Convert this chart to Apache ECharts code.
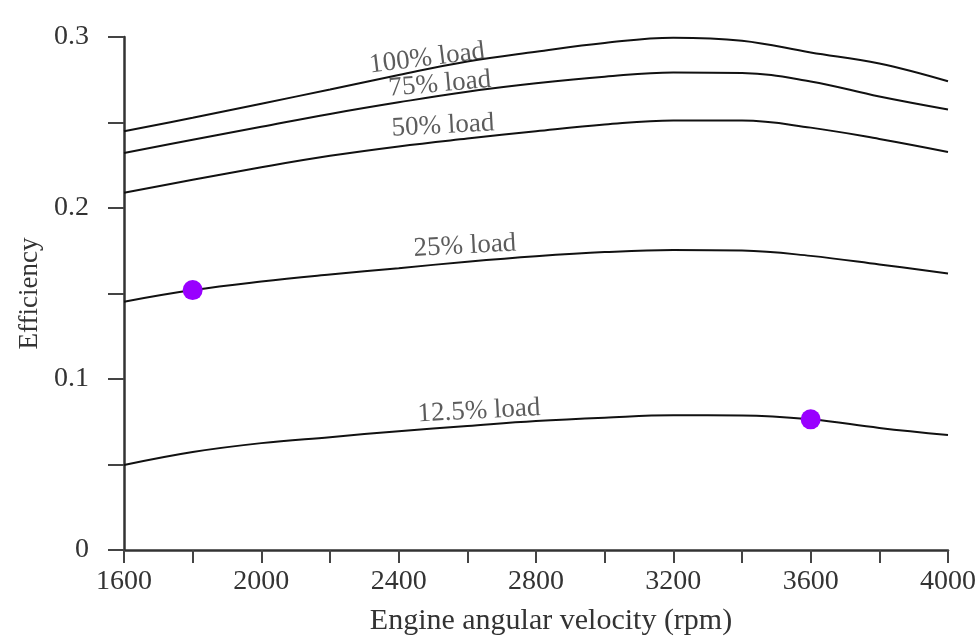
<!DOCTYPE html>
<html>
<head>
<meta charset="utf-8">
<script src="https://cdn.jsdelivr.net/npm/echarts@6/dist/echarts.min.js"></script>
<style>html,body{margin:0;padding:0;background:#fff}#c{width:979px;height:641px}</style>
</head>
<body>
<div id="c"></div>
<script>
const rpm = [1600, 1800, 2000, 2200, 2400, 2600, 2800, 3000, 3200, 3400, 3600, 3800, 4000];
const load100 = [0.2449, 0.2528, 0.2610, 0.2693, 0.2778, 0.2857, 0.2914, 0.2965, 0.2996, 0.2978, 0.2910, 0.2845, 0.2741];
const load75  = [0.2322, 0.2399, 0.2475, 0.2550, 0.2618, 0.2680, 0.2729, 0.2768, 0.2793, 0.2790, 0.2740, 0.2652, 0.2576];
const load50  = [0.2089, 0.2165, 0.2238, 0.2305, 0.2360, 0.2406, 0.2449, 0.2488, 0.2512, 0.2511, 0.2470, 0.2404, 0.2328];
const load25  = [0.1452, 0.1520, 0.1570, 0.1611, 0.1648, 0.1686, 0.1718, 0.1742, 0.1754, 0.1751, 0.1720, 0.1670, 0.1617];
const load12  = [0.0497, 0.0573, 0.0625, 0.0660, 0.0695, 0.0725, 0.0754, 0.0774, 0.0788, 0.0787, 0.0764, 0.0714, 0.0672];
const markers = [[1800, 0.1520], [3600, 0.0764]];
const curveLabels = [
  {text: '100% load', rpm: 2483, value: 0.2875, rotate: 7},
  {text: '75% load', rpm: 2520, value: 0.2724, rotate: 5},
  {text: '50% load', rpm: 2529, value: 0.2480, rotate: 3},
  {text: '25% load', rpm: 2593, value: 0.1777, rotate: 3},
  {text: '12.5% load', rpm: 2634, value: 0.0812, rotate: 3}
];
const xTickLabels = ['1600', '2000', '2400', '2800', '3200', '3600', '4000'];
const yTickLabels = ['0', '0.1', '0.2', '0.3'];

const FONT = '"Liberation Serif", "Times New Roman", serif';
const chart = echarts.init(document.getElementById('c'));
function lineSeries(name, data) {
  return {
    name: name, type: 'line', smooth: 0.4, symbol: 'none',
    data: rpm.map((r, i) => [r, data[i]]),
    lineStyle: {color: '#111', width: 2},
    z: 2
  };
}
const series = [
  lineSeries('100% load', load100),
  lineSeries('75% load', load75),
  lineSeries('50% load', load50),
  lineSeries('25% load', load25),
  lineSeries('12.5% load', load12),
  {
    type: 'scatter', data: markers, symbolSize: 20,
    itemStyle: {color: '#9900ff', opacity: 1}, z: 5
  }
];
curveLabels.forEach(l => {
  series.push({
    type: 'scatter', symbolSize: 0, z: 4, silent: true,
    data: [[l.rpm, l.value]],
    label: {
      show: true, position: 'inside', formatter: l.text, rotate: l.rotate,
      fontFamily: FONT, fontSize: 27, color: '#333'
    }
  });
});
chart.setOption({
  animation: false,
  grid: {left: 124, right: 31, top: 37, bottom: 91},
  xAxis: {
    type: 'value', min: 1600, max: 4000, interval: 200,
    name: 'Engine angular velocity (rpm)', nameLocation: 'middle', nameGap: 56,
    nameTextStyle: {fontFamily: FONT, fontSize: 30, color: '#333', padding: [0, 0, 0, 30]},
    axisLine: {show: true, lineStyle: {color: '#333', width: 2.5}},
    axisTick: {show: true, length: 13, lineStyle: {color: '#444', width: 2}},
    axisLabel: {
      margin: 18, fontFamily: FONT, fontSize: 28, color: '#333',
      formatter: v => { const s = String(v); return xTickLabels.includes(s) ? s : ''; }
    },
    splitLine: {show: false}
  },
  yAxis: {
    type: 'value', min: 0, max: 0.3, interval: 0.05,
    name: 'Efficiency', nameLocation: 'middle', nameGap: 80,
    nameTextStyle: {fontFamily: FONT, fontSize: 27, color: '#333'},
    axisLine: {show: true, lineStyle: {color: '#333', width: 2.5}},
    axisTick: {show: true, length: 16, lineStyle: {color: '#444', width: 2}},
    axisLabel: {
      margin: 35, fontFamily: FONT, fontSize: 28, color: '#333',
      formatter: v => { const s = String(Math.round(v * 100) / 100); return yTickLabels.includes(s) ? s : ''; }
    },
    splitLine: {show: false}
  },
  series: series
});
</script>
</body>
</html>
